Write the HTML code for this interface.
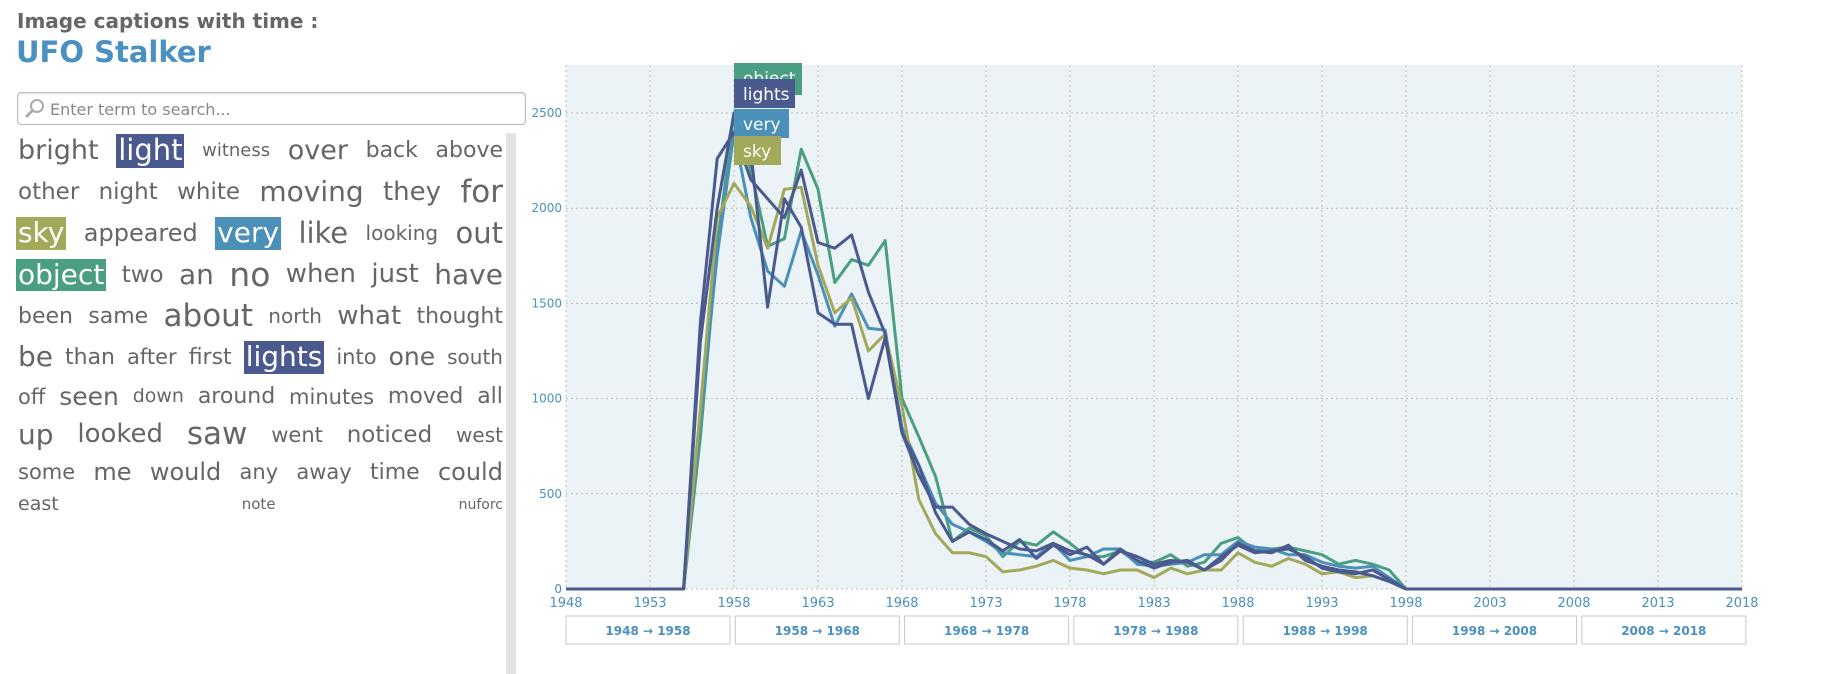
<!DOCTYPE html>
<html><head><meta charset="utf-8">
<style>
body{margin:0;width:1843px;height:674px;background:#fff;font-family:"DejaVu Sans","Liberation Sans",sans-serif;overflow:hidden;position:relative}
#t1{position:absolute;left:17px;top:9px;font-size:20px;font-weight:bold;color:#666}
#t2{position:absolute;left:16px;top:35px;font-size:29px;font-weight:bold;color:#4a90c0}
#search{position:absolute;left:17px;top:92px;width:509px;height:33px;border:1px solid #bbb;border-radius:4px;box-sizing:border-box;box-shadow:inset 0 1px 2px #ddd}
#search span{position:absolute;left:32px;top:7px;font-size:16px;color:#888}
#cloud{position:absolute;left:18px;top:130px;width:485px}
.row{display:flex;justify-content:space-between;align-items:center;color:#666;white-space:nowrap}
.row span{line-height:1.15}
.hl{color:#fff;padding:0 2px}
#scroll{position:absolute;left:506px;top:133px;width:10px;height:541px;background:#e3e3e3}
</style></head><body>
<div id="t1">Image captions with time :</div>
<div id="t2">UFO Stalker</div>
<div id="search"><svg width="24" height="24" style="position:absolute;left:5px;top:4px"><circle cx="14" cy="9" r="6" fill="none" stroke="#aaa" stroke-width="2"/><line x1="10" y1="13" x2="3" y2="20" stroke="#aaa" stroke-width="3"/></svg><span>Enter term to search...</span></div>
<div id="cloud">
<div class="row" style="height:42px"><span style="font-size:27px">bright</span><span class="hl" style="font-size:29px;background:#4a5a8f">light</span><span style="font-size:18px">witness</span><span style="font-size:27px">over</span><span style="font-size:22px">back</span><span style="font-size:22px">above</span></div>
<div class="row" style="height:41px"><span style="font-size:23px">other</span><span style="font-size:23px">night</span><span style="font-size:23px">white</span><span style="font-size:28px">moving</span><span style="font-size:26px">they</span><span style="font-size:31px">for</span></div>
<div class="row" style="height:41px"><span class="hl" style="font-size:28px;background:#a3a95a;margin-left:-2px">sky</span><span style="font-size:24px">appeared</span><span class="hl" style="font-size:28px;background:#4a90b8">very</span><span style="font-size:29px">like</span><span style="font-size:20px">looking</span><span style="font-size:29px">out</span></div>
<div class="row" style="height:42px"><span class="hl" style="font-size:28px;background:#4a9e82;margin-left:-2px">object</span><span style="font-size:23px">two</span><span style="font-size:28px">an</span><span style="font-size:33px">no</span><span style="font-size:26px">when</span><span style="font-size:26px">just</span><span style="font-size:28px">have</span></div>
<div class="row" style="height:41px"><span style="font-size:22px">been</span><span style="font-size:22px">same</span><span style="font-size:31px">about</span><span style="font-size:20px">north</span><span style="font-size:26px">what</span><span style="font-size:22px">thought</span></div>
<div class="row" style="height:41px"><span style="font-size:28px">be</span><span style="font-size:22px">than</span><span style="font-size:21px">after</span><span style="font-size:22px">first</span><span class="hl" style="font-size:28px;background:#4a5a8f">lights</span><span style="font-size:21px">into</span><span style="font-size:25px">one</span><span style="font-size:20px">south</span></div>
<div class="row" style="height:38px"><span style="font-size:21px">off</span><span style="font-size:25px">seen</span><span style="font-size:19px">down</span><span style="font-size:22px">around</span><span style="font-size:21px">minutes</span><span style="font-size:22px">moved</span><span style="font-size:22px">all</span></div>
<div class="row" style="height:38px"><span style="font-size:28px">up</span><span style="font-size:26px">looked</span><span style="font-size:31px">saw</span><span style="font-size:21px">went</span><span style="font-size:23px">noticed</span><span style="font-size:20px">west</span></div>
<div class="row" style="height:37px"><span style="font-size:21px">some</span><span style="font-size:24px">me</span><span style="font-size:24px">would</span><span style="font-size:21px">any</span><span style="font-size:21px">away</span><span style="font-size:22px">time</span><span style="font-size:24px">could</span></div>
<div class="row" style="height:28px"><span style="font-size:19px">east</span><span style="font-size:15px">note</span><span style="font-size:14px">nuforc</span></div>
</div>
<div id="scroll"></div>
<svg id="chart" width="1843" height="674" style="position:absolute;left:0;top:0"></svg>
<script>
const years=[];for(let y=1948;y<=2018;y++)years.push(y);
const seriesNames=["object","lights","very","sky","light"];
const seriesColors=["#4a9e82","#4a5a8f","#4a90b8","#a3a95a","#4a5a8f"];
const pre=[0,0,0,0,0,0,0,0];
const post=[0,0,0,0,0,0,0,0,0,0,0,0,0,0,0,0,0,0,0,0,0];
const objectVals=pre.concat([800,1800,2500,2200,1800,1840,2310,2100,1610,1730,1700,1830,1000,800,590,250,320,280,170,250,230,300,240,170,170,200,140,140,180,120,140,240,270,200,210,220,200,180,130,150,130,100],post);
const lightsVals=pre.concat([1300,2000,2500,2300,1480,2050,1900,1450,1390,1390,1000,1320,820,650,400,250,300,260,200,260,160,230,180,220,130,210,150,110,140,150,100,170,230,190,200,210,170,110,90,80,100,50],post);
const veryVals=pre.concat([900,1750,2400,1950,1670,1590,1880,1650,1380,1550,1370,1360,850,650,450,340,300,250,190,180,170,240,150,170,210,210,130,120,130,140,180,180,250,220,210,180,180,140,120,110,120,60],post);
const skyVals=pre.concat([950,1950,2130,2010,1790,2100,2110,1700,1450,1530,1250,1340,960,470,290,190,190,170,90,100,120,150,110,100,80,100,100,60,110,80,100,100,190,140,120,160,130,80,90,60,70,40],post);
const lightVals=pre.concat([1400,2260,2400,2150,2050,1950,2200,1820,1790,1860,1560,1340,820,600,430,430,340,290,250,210,200,240,200,180,130,200,170,130,150,140,100,150,240,200,190,230,150,120,100,90,70,40],post);
const allVals=[objectVals,lightsVals,veryVals,skyVals,lightVals];
const yTicks=[0,500,1000,1500,2000,2500];
const xTicks=[1948,1953,1958,1963,1968,1973,1978,1983,1988,1993,1998,2003,2008,2013,2018];
const ranges=["1948 → 1958","1958 → 1968","1968 → 1978","1978 → 1988","1988 → 1998","1998 → 2008","2008 → 2018"];
const legendNames=["object","lights","very","sky"];
const X0=566,X1=1742,Y0=589,YT=65;
const xs=y=>X0+(y-1948)*(X1-X0)/70;
const ys=v=>Y0-v*(Y0-113)/2500;
const svg=document.getElementById('chart');const NS="http://www.w3.org/2000/svg";
function mk(t,a,p){const e=document.createElementNS(NS,t);for(const k in a)e.setAttribute(k,a[k]);(p||svg).appendChild(e);return e;}
const bg=mk('rect',{x:X0,y:YT,width:X1-X0,height:Y0-YT,fill:'#ebf3f6'});


for(const t of xTicks){const l=mk('line',{x1:xs(t),x2:xs(t),y1:YT,y2:Y0,stroke:'#bbb','stroke-dasharray':'2,3'});


const tx=mk('text',{x:xs(t),y:607,'text-anchor':'middle','font-size':13,fill:'#4a90c0'});tx.textContent=t;

}
for(const t of yTicks){const l=mk('line',{x1:X0,x2:X1,y1:ys(t),y2:ys(t),stroke:'#bbb','stroke-dasharray':'2,3'});


const tx=mk('text',{x:X0-4,y:ys(t)+4,'text-anchor':'end','font-size':12,fill:'#4a90c0'});tx.textContent=t;

}
const order=[0,2,3,4,1];
for(const i of order){const d=allVals[i].map((v,j)=>(j?'L':'M')+xs(years[j]).toFixed(1)+','+ys(v).toFixed(1)).join('');
const p=mk('path',{d:d,fill:'none',stroke:seriesColors[i],'stroke-width':3,'stroke-linejoin':'round'});

}
const lg=[[63,68],[79,61],[109,55],[136,47]];
legendNames.forEach((n,i)=>{const ci=seriesNames.indexOf(n);const g=mk('g',{});


mk('rect',{x:734,y:lg[i][0],width:lg[i][1],height:i==0?32:29,fill:seriesColors[ci]},g);
const t=mk('text',{x:743,y:lg[i][0]+21,'font-size':17,fill:'#fff'},g);t.textContent=n;});
ranges.forEach((r,i)=>{const x=566+i*169.3;const g=mk('g',{});


mk('rect',{x:x,y:616,width:164,height:28,fill:'#fff',stroke:'#c8c8c8'},g);
const t=mk('text',{x:x+82,y:635,'text-anchor':'middle','font-size':12,'font-weight':'bold',fill:'#4a90c0'},g);t.textContent=r;});
</script>
</body></html>
